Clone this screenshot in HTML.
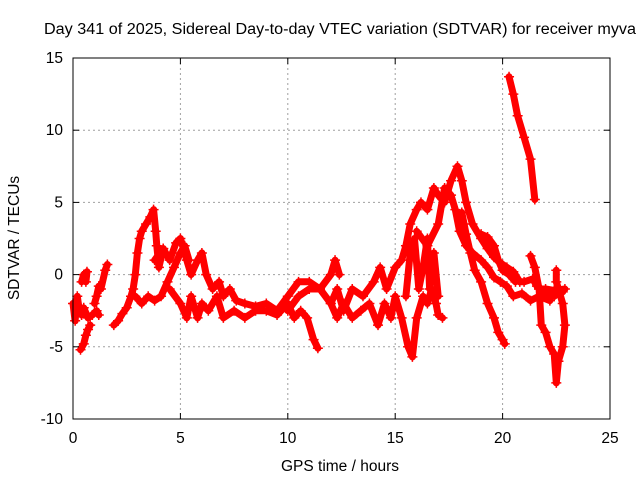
<!DOCTYPE html>
<html><head><meta charset="utf-8"><style>
body{margin:0;background:#fff}
svg{display:block;font-family:"Liberation Sans",sans-serif}
</style></head><body>
<svg id="chart" width="640" height="480">
<rect width="640" height="480" fill="#fff"/>
<g id="grid"></g>
<g id="series"></g>
<rect x="73" y="58" width="537" height="361" fill="none" stroke="#000" stroke-width="1"/>
<g id="ticks"></g>
<text x="44" y="34" font-size="15.5" textLength="592" lengthAdjust="spacingAndGlyphs">Day 341 of 2025, Sidereal Day-to-day VTEC variation (SDTVAR) for receiver myva</text>
<text x="340" y="471" text-anchor="middle" font-size="15.5">GPS time / hours</text>
<text transform="translate(19,238) rotate(-90)" text-anchor="middle" font-size="15.5">SDTVAR / TECUs</text>
</svg>
<script>
const xTicks=[0,5,10,15,20,25];
const yTicks=[-10,-5,0,5,10,15];
const track1=[[0,-2],[0.1,-3.2],[0.2,-1.5],[0.3,-2.5],[0.4,-2.8],[0.5,-2.3],[0.7,-3],[0.9,-2.8],[1.1,-2.5],[1.2,-2.8]];
const track2=[[0.35,-5.2],[0.5,-4.8],[0.6,-4.2],[0.7,-3.8],[0.8,-3.5]];
const track3=[[0.4,-0.5],[0.5,0],[0.6,-0.5],[0.65,0.2]];
const track4=[[1.0,-2],[1.1,-1.5],[1.2,-0.8],[1.3,-1],[1.5,0.3],[1.6,0.7]];
const track5=[[1.9,-3.5],[2.1,-3.2],[2.3,-2.7],[2.5,-2.3],[2.7,-1.5],[2.8,-1],[2.9,0],[3.0,1.5],[3.1,2.5],[3.2,3],[3.4,3.5],[3.6,4],[3.75,4.5],[3.85,3],[3.9,2],[4.0,0.5],[4.2,1.8]];
const track6=[[2.9,-1.5],[3.2,-2],[3.5,-1.5],[3.8,-1.8],[4.1,-1.5],[4.4,-0.5],[4.7,0.5],[5,1.5],[5.2,2],[5.4,1]];
const track7=[[3.8,1],[4.2,1.8],[4.5,1],[4.8,2.2],[5.0,2.5],[5.3,1],[5.5,0],[5.8,1],[6.0,1.5],[6.2,0],[6.5,-1],[6.8,-0.5],[7,-1.5],[7.3,-1],[7.6,-1.8],[8,-2],[8.5,-2.2],[9,-2],[9.5,-2.5],[10,-1.5],[10.5,-0.5],[11,-0.5],[11.5,-1],[12,0],[12.2,1],[12.4,0]];
const track8=[[4.5,-1],[5,-2],[5.3,-3],[5.5,-1.5],[5.8,-3],[6,-2],[6.3,-2.5],[6.7,-1.5],[7,-3],[7.5,-2.5],[8,-3],[8.5,-2.5],[9,-2.5],[9.5,-2.8],[10,-2],[10.3,-3],[10.6,-2.5],[10.9,-3],[11.2,-4.5],[11.4,-5.1]];
const track9=[[10,-2.5],[10.5,-1.5],[11,-1],[11.5,-1],[12,-2],[12.3,-3],[12.6,-2],[13,-3],[13.4,-2.5],[13.8,-2],[14.2,-3.5],[14.5,-2],[14.8,-3],[15,-1.5],[15.3,-3],[15.6,-5],[15.8,-5.7],[16,-3],[16.3,-1.5],[16.5,-2],[16.7,-1],[16.9,-2],[17,-2.8],[17.2,-3]];
const track10=[[12,-2],[12.3,-1],[12.6,-2.5],[13,-1],[13.5,-1.5],[14,-0.5],[14.3,0.5],[14.6,-1],[15,0.5],[15.3,1],[15.5,2],[15.7,3.5],[16,4.5],[16.2,5],[16.5,4.5],[16.8,6],[17,5.5],[17.3,5],[17.6,6.5],[17.9,7.5],[18.1,6.5],[18.3,5],[18.6,3.5],[19,2.5],[19.3,1.8],[19.6,1.2],[19.9,0.8],[20.2,0.5],[20.5,0.2],[20.8,-0.5],[21,-0.5],[21.4,-0.3],[21.6,-0.8],[22,-1.2],[22.4,-1.5],[22.6,-1.2],[22.8,-1.2]];
const track11=[[16,3],[16.5,2],[17,3.5],[17.3,6],[17.6,5.5],[17.8,4.5],[18,3],[18.3,2],[18.6,1.5],[19,1],[19.3,0.5],[19.6,-0.2],[19.9,-0.5],[20.2,-0.8],[20.5,-1.5],[20.9,-1.3],[21.3,-1.8],[21.7,-1.5],[22.2,-1.8]];
const track12=[[18.1,4.3],[18.3,2.8],[18.5,1.5],[18.7,0.3],[19,-0.5],[19.3,-2],[19.6,-3],[19.8,-4],[20,-4.5],[20.1,-4.8]];
const track13=[[19.0,2.8],[19.3,2.6],[19.6,2],[19.8,1],[20,0.3],[20.3,0],[20.6,-0.5]];
const track14=[[20.3,13.7],[20.5,12.5],[20.7,11],[21,9.5],[21.3,8],[21.5,5.2]];
const track15=[[21.3,1.3],[21.5,0.5],[21.7,-1],[22,-1],[22.4,-1.1],[22.9,-1]];
const track16=[[21.7,-1],[21.8,-3.5],[22,-4],[22.2,-5],[22.4,-5.5],[22.5,-7.5],[22.6,-6],[22.8,-5],[22.9,-3.5],[22.8,-2],[22.5,-0.5],[22.5,0.3]];
const track17=[[15.5,-1.5],[15.7,1.5],[15.9,2.5],[16.1,-1],[16.3,0.5],[16.5,2.5],[16.6,-1],[16.8,1.5],[17,-1.5]];
const tracks=[track1,track2,track3,track4,track5,track6,track7,track8,track9,track10,track11,track12,track13,track14,track15,track16,track17];

const NS="http://www.w3.org/2000/svg";
const X0=73,X1=610,Y0=419,Y1=58;
const xs=v=>X0+(v-0)/(25-0)*(X1-X0);
const ys=v=>Y0-(v+10)/(15+10)*(Y0-Y1);
function mk(tag,attrs,parent){const e=document.createElementNS(NS,tag);for(const k in attrs)e.setAttribute(k,attrs[k]);parent.appendChild(e);return e;}
const grid=document.getElementById('grid'),ticks=document.getElementById('ticks'),ser=document.getElementById('series');
xTicks.forEach(t=>{
  const x=xs(t);
  if(t>0&&t<25){const g=mk('line',{x1:x,x2:x,y1:Y1,y2:Y0,stroke:'#a0a0a0','stroke-dasharray':'2,3'},grid);
  
  }
  mk('line',{x1:x,x2:x,y1:Y0,y2:Y0-6,stroke:'#000'},ticks);
  mk('line',{x1:x,x2:x,y1:Y1,y2:Y1+6,stroke:'#000'},ticks);
  const l=mk('text',{x:x,y:443,'text-anchor':'middle','font-size':'15.5'},ticks);
  l.textContent=t;
  
  
});
yTicks.forEach(t=>{
  const y=ys(t);
  if(t>-10&&t<15){const g=mk('line',{x1:X0,x2:X1,y1:y,y2:y,stroke:'#a0a0a0','stroke-dasharray':'2,3'},grid);
  
  }
  mk('line',{x1:X0,x2:X0+6,y1:y,y2:y,stroke:'#000'},ticks);
  mk('line',{x1:X1,x2:X1-6,y1:y,y2:y,stroke:'#000'},ticks);
  const l=mk('text',{x:63,y:y+5,'text-anchor':'end','font-size':'15.5'},ticks);
  l.textContent=t;
  
  
});
tracks.forEach(tr=>{
  const pts=tr.map(p=>xs(p[0]).toFixed(1)+','+ys(p[1]).toFixed(1)).join(' ');
  const pl=mk('polyline',{points:pts,fill:'none',stroke:'#ff0000','stroke-width':7,'stroke-linejoin':'round','stroke-linecap':'round'},ser);
  
  
  tr.forEach(p=>{
    const x=xs(p[0]),y=ys(p[1]);
    const m=mk('path',{d:`M${x-5},${y}H${x+5}M${x},${y-5}V${y+5}`,stroke:'#ff0000','stroke-width':1.5},ser);
    
    
  });
});
</script>
</body></html>
